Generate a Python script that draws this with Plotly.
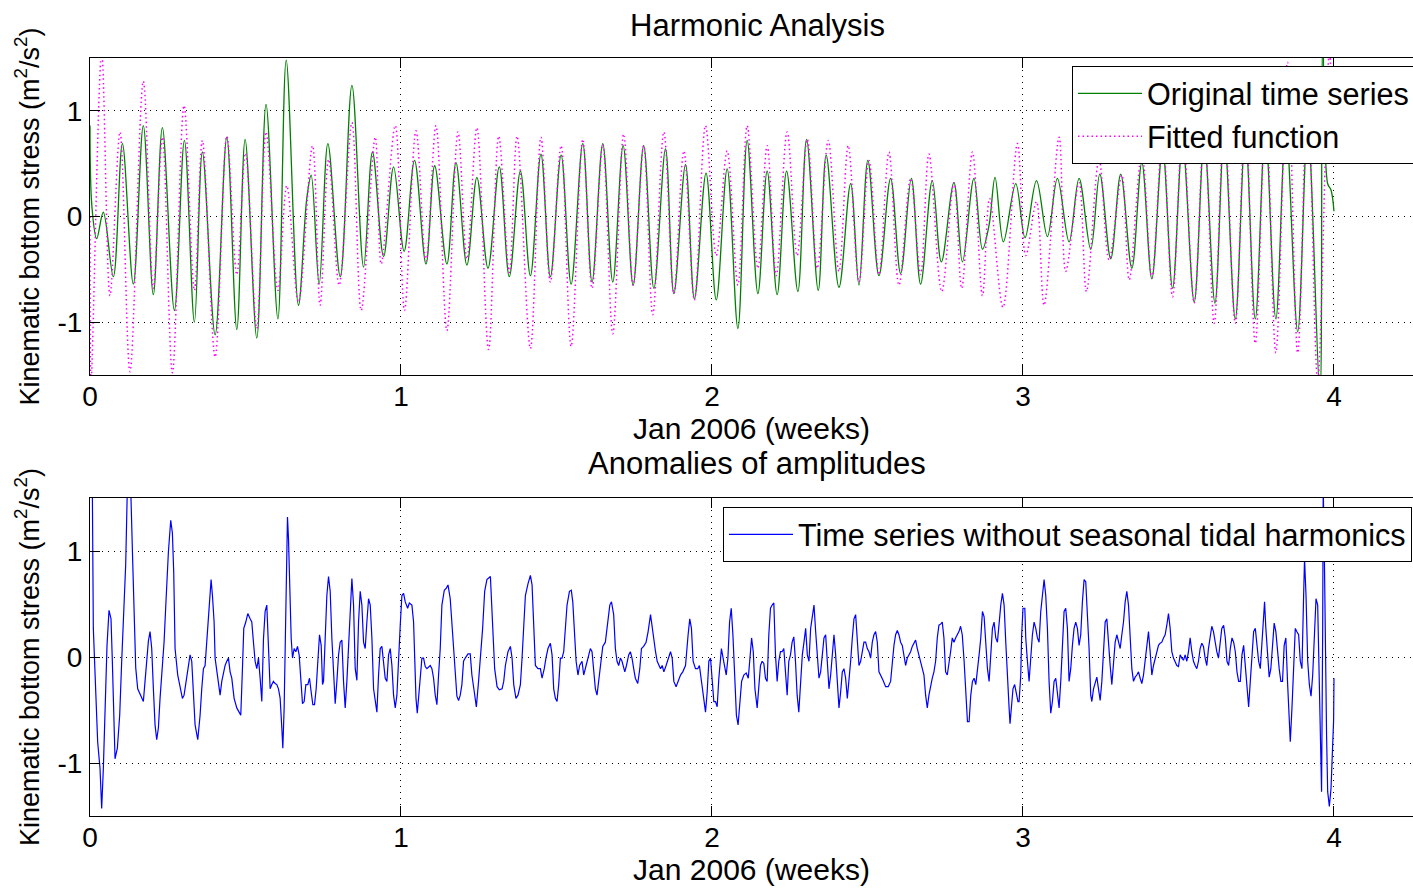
import numpy as np
import plotly.graph_objects as go

HOURS_PER_WEEK = 168.0

# ---- Original time series (green): turning points (hours, value)
GREEN_T = [0.0, 1.0, 3.6, 7.2, 12.6, 17.5, 23.4, 28.8, 34.2, 39.1, 45.6, 51.0, 56.4, 60.7, 67.6, 73.9,
           79.3, 83.8, 90.1, 95.1, 101.5, 106.0, 112.6, 117.1, 119.5, 123.8, 128.5, 135.2, 141.5, 147.8,
           152.6, 158.6, 164.0, 169.7, 175.3, 181.5, 186.2, 192.8, 197.7, 203.6, 209.0, 215.0, 221.1,
           226.5, 232.5, 237.9, 243.6, 248.7, 254.5, 259.9, 266.2, 271.2, 277.0, 282.4, 288.0, 293.4,
           299.1, 304.6, 310.9, 315.4, 321.7, 326.5, 332.8, 338.3, 344.2, 350.0, 355.0, 360.8, 365.8,
           371.2, 376.3, 382.4, 387.1, 393.4, 397.7, 404.6, 410.9, 415.4, 420.2, 426.2, 432.5, 437.9,
           443.7, 448.7, 455.0, 459.9, 466.7, 471.3, 477.5, 482.1, 485.7, 488.9, 493.4, 500.1, 505.1,
           511.3, 517.2, 522.6, 528.9, 534.3, 540.6, 545.5, 551.4, 556.8, 562.8, 568.2, 573.6, 579.4,
           584.8, 590.2, 596.5, 601.9, 607.7, 612.7, 618.7, 624.1, 629.5, 634.9, 640.6, 646.0, 652.4,
           657.8, 664.4, 665.9, 668.6, 670.4, 672.0]
GREEN_V = [0.86, 0.10, -0.21, 0.04, -0.57, 0.69, -0.64, 0.86, -0.74, 0.84, -0.89, 0.72, -1.00, 0.61, -1.12, 0.75,
           -1.07, 0.73, -1.15, 1.06, -0.97, 1.48, -0.84, 0.17, 0.39, -0.64, 0.69, -0.57, 1.24, -0.48,
           0.61, -0.38, 0.47, -0.33, 0.53, -0.45, 0.48, -0.45, 0.51, -0.46, 0.37, -0.49, 0.47,
           -0.57, 0.43, -0.56, 0.59, -0.57, 0.58, -0.64, 0.69, -0.62, 0.69, -0.62, 0.67, -0.65,
           0.67, -0.68, 0.64, -0.73, 0.49, -0.78, 0.41, -0.79, 0.45, -1.06, 0.72, -0.73, 0.43,
           -0.74, 0.43, -0.71, 0.73, -0.70, 0.58, -0.67, 0.31, -0.65, 0.53, -0.56, 0.36, -0.54,
           0.36, -0.64, 0.34, -0.43, 0.32, -0.43, 0.36, -0.31, -0.08, 0.37, -0.24, 0.31, -0.20,
           0.34, -0.19, 0.36, -0.24, 0.36, -0.31, 0.40, -0.40, 0.40, -0.49, 0.51, -0.59, 0.65,
           -0.68, 0.70, -0.81, 0.72, -0.82, 0.78, -0.97, 0.78, -0.97, 0.82, -0.97, 0.85, -1.09,
           0.85, -1.70, 1.70, 0.31, 0.25, 0.05]

# ---- Fitted function (magenta, dotted)
FIT_T = [0.0, 0.6, 6.3, 10.8, 16.2, 21.6, 28.8, 34.2, 39.1, 44.5, 50.8, 56.4, 60.7, 67.6, 73.9, 79.3,
         84.0, 90.1, 95.1, 101.5, 106.3, 112.6, 120.2, 124.3, 128.9, 134.6, 141.5, 146.5, 154.1, 157.3,
         164.9, 169.9, 176.1, 181.5, 186.9, 192.8, 198.8, 203.6, 209.0, 215.3, 220.8, 226.5, 230.7,
         237.9, 243.6, 248.7, 254.5, 259.9, 266.2, 271.2, 277.0, 282.4, 288.3, 293.4, 299.1, 304.0,
         310.0, 315.4, 320.8, 326.5, 332.5, 338.3, 344.2, 350.0, 355.0, 360.8, 365.8, 370.7, 376.6,
         382.0, 387.5, 392.9, 398.8, 404.6, 409.6, 415.4, 420.8, 426.2, 431.6, 437.0, 443.3, 448.7,
         453.2, 460.1, 466.7, 470.9, 476.7, 482.1, 486.0, 493.2, 501.0, 505.5, 511.3, 515.4, 523.5,
         527.1, 534.3, 538.3, 545.1, 550.5, 557.4, 561.4, 568.2, 573.6, 579.4, 584.8, 590.2, 596.5,
         601.9, 607.3, 612.7, 618.7, 624.1, 629.5, 635.2, 640.6, 646.9, 652.4, 657.8, 663.2, 669.5, 672.0]
FIT_V = [0.0, -1.55, 1.55, -0.75, 0.80, -1.47, 1.28, -0.68, 0.75, -1.48, 1.05, -0.70, 0.72, -1.33, 0.76, -0.55,
         0.60, -1.06, 0.80, -0.70, 0.29, -0.81, 0.67, -0.84, 0.54, -0.65, 0.89, -0.89, 0.75, -0.45,
         0.86, -0.89, 0.81, -0.42, 0.86, -1.08, 0.80, -0.40, 0.84, -1.26, 0.76, -0.53, 0.76,
         -1.25, 0.75, -0.62, 0.67, -1.23, 0.73, -0.68, 0.68, -1.11, 0.78, -0.65, 0.67, -0.93,
         0.80, -0.73, 0.62, -0.79, 0.86, -0.37, 0.62, -0.65, 0.86, -0.49, 0.67, -0.56, 0.80,
         -0.37, 0.73, -0.49, 0.72, -0.52, 0.67, -0.62, 0.53, -0.55, 0.61, -0.65, 0.36, -0.55,
         0.59, -0.71, 0.32, -0.68, 0.61, -0.75, 0.17, -0.86, 0.69, -0.37, 0.14, -0.84, 0.75,
         -0.52, 0.32, -0.71, 0.54, -0.41, 0.39, -0.60, 0.60, -0.58, 0.75, -0.76, 0.80, -0.82,
         0.85, -1.01, 0.90, -1.01, 0.95, -1.20, 1.00, -1.29, 1.46, -1.29, 1.20, -1.55, 1.55, 0.50]

# ---- Anomalies (blue): time series without seasonal tidal harmonics (hours, value)
ANOM_T = [0.0, 1.26, 1.8, 3.06, 4.14, 5.41, 6.31, 7.21, 8.47, 9.19, 10.27, 11.35, 12.07, 12.61, 13.52, 14.78,
          16.04, 17.12, 18.02, 19.28, 20.18, 21.98, 23.07, 23.97, 24.69, 25.77, 27.57, 28.83, 29.73, 30.64,
          31.54, 32.44, 33.34, 34.24, 35.14, 36.04, 36.94, 37.84, 39.10, 40.01, 41.09, 42.35, 43.61, 44.51,
          45.23, 45.95, 47.39, 48.66, 49.92, 50.82, 51.72, 53.16, 54.06, 54.96, 55.86, 56.77, 58.21, 59.47,
          60.37, 61.27, 62.17, 63.07, 63.97, 64.87, 65.42, 66.14, 67.04, 67.58, 69.02, 70.28, 71.18, 72.08,
          72.98, 73.89, 74.79, 75.69, 76.59, 77.85, 79.29, 80.55, 81.45, 82.35, 83.07, 84.16, 85.24, 86.50,
          87.40, 88.30, 89.20, 90.10, 91.00, 91.91, 92.81, 93.71, 94.61, 95.51, 96.41, 97.31, 98.21, 99.11,
          100.02, 100.92, 101.82, 102.72, 103.62, 104.16, 104.88, 105.42, 106.14, 106.68, 107.22, 107.76,
          108.67, 109.39, 110.29, 111.19, 112.09, 112.99, 113.89, 114.79, 115.69, 116.60, 117.68, 118.58,
          119.48, 120.38, 121.28, 122.18, 123.08, 123.98, 124.89, 125.61, 126.15, 127.05, 127.95, 128.85,
          129.75, 130.65, 131.55, 132.46, 133.36, 134.26, 135.16, 136.06, 136.96, 137.86, 138.76, 139.66,
          140.56, 141.47, 142.37, 143.27, 144.17, 145.07, 145.97, 146.87, 147.77, 148.67, 149.57, 150.48,
          151.38, 152.28, 153.18, 154.08, 154.98, 155.88, 156.78, 157.68, 158.58, 159.48, 160.39, 161.29,
          162.19, 163.09, 163.99, 164.89, 165.79, 166.69, 167.59, 168.49,
          169.4, 170.3, 171.6, 172.5, 173.9, 174.8, 175.3, 176.1, 176.8, 177.5, 178.4, 179.3, 180.2, 181.1,
          182.0, 182.9, 183.8, 184.7, 185.6, 186.5, 187.4, 188.3, 189.2, 190.1, 191.4, 192.5, 193.4, 194.6,
          195.5, 196.4, 197.3, 198.2, 199.1, 200.0, 200.9, 201.8, 202.7, 204.2, 205.4, 206.3, 207.6, 208.7,
          209.9, 210.8, 212.1, 213.2, 214.4, 216.3, 217.5, 218.6, 219.9, 221.1, 222.6, 223.5, 224.4, 225.8,
          227.1, 228.0, 228.9, 230.1, 231.2, 232.5, 233.4, 234.3, 235.2, 236.6, 237.9, 238.8, 239.7, 240.6,
          242.0, 243.3, 244.2, 245.4, 246.3, 247.4, 248.7, 249.6, 250.5, 251.4, 252.3, 253.2, 254.1, 255.0,
          255.9, 256.8, 257.7, 259.0, 260.0, 260.8, 261.7, 262.6, 263.6, 264.5, 265.8, 266.7, 268.0, 269.1,
          270.3, 271.2, 272.1, 273.0, 273.9, 274.8, 276.1, 277.0, 278.4, 279.7, 280.8, 281.7, 282.9, 283.8,
          284.7, 285.6, 286.5, 287.4, 288.9, 289.8, 291.0, 291.9, 292.8, 293.7, 294.6, 295.9, 297.0, 297.9,
          299.1, 300.4, 301.5, 302.8, 303.6, 304.5, 305.5, 306.4, 307.3, 308.2, 309.1, 310.0, 311.2, 312.7,
          313.6, 314.5, 315.4, 316.6, 317.7, 319.0, 320.2, 321.7, 323.1, 324.0, 324.9, 325.8, 327.1, 328.3,
          329.2, 330.3, 331.6, 332.5, 333.4, 334.3, 335.2, 336.1, 337.0,
          337.9, 338.8, 339.7, 340.6, 341.1, 342.0, 343.0, 343.7, 344.6, 345.5, 346.4, 347.3, 348.4, 349.2,
          350.1, 351.1, 352.0, 353.2, 354.5, 355.6, 356.5, 357.4, 358.3, 359.2, 360.4, 361.3, 362.2, 363.1,
          364.0, 364.9, 365.8, 366.7, 367.6, 368.5, 369.4, 370.3, 371.2, 372.1, 373.0, 373.9, 374.8, 375.7,
          376.6, 377.5, 378.4, 379.3, 380.2, 381.1, 382.0, 382.9, 383.8, 384.8, 385.7, 386.6, 387.5, 388.4,
          389.3, 390.2, 391.1, 392.0, 392.9, 393.8, 394.7, 395.6, 396.5, 397.4, 398.3, 399.2, 400.1, 401.0,
          401.9, 402.8, 403.7, 404.6, 405.5, 406.4, 407.3, 408.2, 409.1, 410.0, 410.9, 411.8, 412.7, 413.6,
          414.5, 415.4, 416.3, 417.2, 418.1, 419.0, 419.9, 420.8, 421.7, 422.6, 423.5, 424.4, 425.3, 426.2,
          427.1, 428.4, 429.8, 431.2, 432.5, 433.4, 434.3, 435.2, 436.1, 437.0, 437.9, 438.8, 439.7, 440.6,
          441.5, 442.4, 443.3, 444.2, 445.1, 446.0, 446.9, 447.8, 448.7, 449.6, 450.5, 451.4, 452.3, 453.2,
          454.1, 455.0, 455.9, 456.8, 457.7, 458.6, 459.5, 460.4, 461.3, 462.2, 463.1, 464.0, 464.9, 465.8,
          466.7, 467.6, 468.5, 469.4, 470.3, 471.2, 472.2, 473.1, 474.0, 474.9, 475.8, 476.7, 477.6, 478.5,
          479.4, 480.3, 481.2, 482.1, 483.0, 483.9, 484.8, 485.7, 486.6, 487.5, 488.4, 489.3, 490.2, 491.1,
          492.0, 492.9, 493.8, 494.7, 495.6, 496.5, 497.0, 497.9, 498.6, 499.5, 500.4, 501.3,
          501.9, 502.8, 503.3, 504.0, 505.0, 505.5, 506.4, 507.3, 508.2, 509.1, 510.0, 510.9, 511.8, 512.7,
          513.6, 514.5, 515.4, 516.3, 517.2, 518.1, 519.0, 519.9, 520.8, 521.7, 522.6, 523.5, 524.4, 525.3,
          526.2, 527.1, 528.0, 528.9, 529.8, 530.7, 531.6, 532.5, 533.4, 534.3, 535.2, 536.1, 537.0, 537.9,
          538.8, 539.7, 540.6, 541.2, 542.1, 543.0, 543.9, 544.8, 545.7, 546.6, 547.5, 548.4, 549.3, 550.2,
          551.1, 552.0, 552.9, 553.8, 554.7, 555.6, 556.5, 557.4, 558.3, 559.2, 560.1, 561.0, 561.9, 562.8,
          563.7, 564.6, 565.5, 566.4, 567.3, 568.2, 569.1, 570.0, 570.9, 571.8, 572.7, 573.6, 574.5, 575.4,
          576.3, 577.2, 578.1, 579.0, 579.9, 580.8, 581.7, 582.6, 583.5, 584.4, 585.3, 586.2, 587.1, 588.0,
          588.9, 589.8, 590.7, 591.6, 592.5, 593.4, 594.3, 595.2, 596.1, 597.0, 597.9, 598.8, 599.7, 600.6,
          601.5, 602.4, 603.3, 604.2, 605.1, 606.0, 606.9, 607.8, 608.7, 609.6, 610.5, 611.4, 612.4, 613.3,
          614.2, 615.1, 616.0, 616.9, 617.8, 618.7, 619.6, 620.5, 621.4, 622.3, 623.2, 624.1, 625.0, 625.9,
          626.8, 627.7, 628.6, 629.5, 630.4, 631.3, 632.2, 633.1, 634.0, 634.5, 635.2, 636.1, 637.0, 637.9,
          638.8, 639.7, 640.6, 641.5, 642.4, 643.3, 644.2, 645.1, 646.0, 646.9, 647.8, 648.4, 649.3, 650.2,
          651.1, 651.9, 652.9, 653.8, 654.7, 655.6, 656.1, 656.9, 657.8, 658.7, 659.6, 660.5, 661.4, 662.3,
          663.2, 664.1, 664.6, 665.3, 665.9, 666.2, 666.8, 667.3, 668.0, 668.6, 669.5, 670.4, 671.3, 671.8, 672.0]
ANOM_V = [1.6, 1.6, 0.27, -0.36, -0.80, -1.05, -1.43, -1.05, -0.39, 0.11, 0.44, 0.36, -0.04, -0.48, -0.96, -0.86,
          -0.55, -0.04, 0.29, 0.87, 1.6, 1.6, 0.90, 0.30, -0.10, -0.30, -0.37, -0.42, -0.23, -0.04,
          0.15, 0.24, 0.08, -0.30, -0.64, -0.78, -0.67, -0.39, -0.08, 0.14, 0.54, 0.99, 1.29, 1.17,
          0.80, 0.08, -0.17, -0.30, -0.39, -0.36, -0.26, -0.08, 0.02, -0.04, -0.36, -0.64, -0.78, -0.55,
          -0.30, -0.11, -0.08, 0.13, 0.33, 0.62, 0.73, 0.58, 0.33, -0.01, -0.23, -0.36, -0.23, -0.14,
          -0.08, -0.04, -0.01, -0.14, -0.20, -0.39, -0.48, -0.52, -0.55, -0.11, 0.27, 0.33, 0.41, 0.36,
          0.33, 0.14, -0.04, -0.11, -0.01, -0.20, -0.42, 0.17, 0.43, 0.49, 0.11, -0.30, -0.26, -0.23,
          -0.25, -0.26, -0.30, -0.39, -0.67, -0.86, -0.48, -0.01, 0.80, 1.32, 1.12, 0.65,
          0.18, -0.01, 0.08, 0.05, 0.10, 0.02, -0.17, -0.44, -0.42, -0.26, -0.26, -0.20,
          -0.33, -0.45, -0.45, -0.30, -0.04, 0.21, 0.11, -0.26, -0.23, 0.11, 0.58, 0.76,
          0.62, 0.18, -0.20, -0.44, -0.23, 0.02, 0.14, 0.16, -0.23, -0.48, -0.23, 0.14,
          0.49, 0.74, 0.49, -0.11, -0.22, 0.33, 0.62, 0.49, 0.14, 0.08, 0.33, 0.55,
          0.49, 0.18, -0.30, -0.42, -0.52, -0.17, 0.08, 0.10, -0.08, -0.20, -0.23, 0.02,
          0.08, -0.08, -0.36, -0.48, -0.36, 0.02, 0.30, 0.58,
          0.60, 0.52, 0.46, 0.51, 0.49, 0.33, -0.04, -0.39, -0.53, -0.36, -0.17, -0.01, -0.01, -0.09,
          -0.11, -0.09, -0.08, -0.11, -0.20, -0.36, -0.45, -0.17, 0.08, 0.49, 0.63, 0.65, 0.68, 0.55,
          0.33, 0.10, -0.17, -0.37, -0.41, -0.36, -0.26, -0.04, -0.01, 0.03, 0.03, -0.17, -0.33, -0.47,
          -0.23, -0.04, 0.27, 0.62, 0.73, 0.76, 0.36, -0.11, -0.28, -0.31, -0.30, -0.23, -0.08, 0.05,
          0.10, -0.01, -0.26, -0.39, -0.36, -0.26, -0.01, 0.27, 0.58, 0.69, 0.77, 0.68, 0.30, -0.08,
          -0.11, -0.11, -0.20, -0.11, -0.01, 0.08, 0.13, 0.02, -0.30, -0.39, -0.42, -0.26, -0.01, -0.01,
          0.05, 0.30, 0.49, 0.62, 0.63, 0.52, 0.18, -0.04, -0.17, -0.08, -0.04, -0.17, -0.08, -0.01,
          0.08, 0.05, -0.11, -0.30, -0.36, -0.23, -0.04, 0.10, 0.14, 0.36, 0.49, 0.52, 0.40, 0.08,
          -0.04, -0.08, -0.01, -0.04, -0.14, -0.08, 0.02, 0.05, -0.01, -0.11, -0.20, -0.25, -0.11, 0.08,
          0.10, 0.14, 0.24, 0.40, 0.30, 0.14, 0.05, -0.04, -0.08, -0.11, -0.08, -0.14, -0.08, -0.01,
          0.05, -0.01, -0.23, -0.28, -0.23, -0.17, -0.14, -0.08, 0.21, 0.36, 0.27, -0.04, -0.11, -0.11,
          -0.08, -0.23, -0.45, -0.52, -0.33, -0.04, -0.01, -0.23, -0.42,
          -0.42, -0.47, -0.20, -0.01, 0.08, -0.01, -0.11, -0.17, -0.01, 0.33, 0.46, 0.21, -0.23, -0.55,
          -0.64, -0.39, -0.23, -0.17, -0.15, -0.20, -0.04, 0.18, 0.05, -0.30, -0.48, -0.23, -0.08, -0.04,
          -0.06, -0.20, -0.23, 0.21, 0.46, 0.49, 0.51, 0.02, -0.23, -0.04, 0.05, 0.05, 0.08, -0.14,
          -0.36, -0.04, 0.02, 0.14, 0.19, -0.04, -0.36, -0.52, -0.23, 0.02, 0.14, 0.27, 0.02, -0.04,
          0.27, 0.41, 0.49, 0.24, -0.04, -0.20, -0.14, 0.05, 0.18, 0.21, -0.01, -0.30, -0.17, 0.02,
          0.21, 0.02, -0.23, -0.48, -0.33, -0.14, -0.11, -0.20, -0.39, -0.23, -0.04, 0.18, 0.36, 0.40,
          0.18, -0.08, -0.04, 0.05, 0.14, 0.14, 0.08, 0.05, -0.01, 0.14, 0.21, 0.24, 0.14, -0.14,
          -0.18, -0.22, -0.28, -0.28, -0.23, -0.04, 0.11, 0.21, 0.25, 0.21, 0.14, 0.11, 0.02, -0.08,
          -0.01, 0.02, 0.05, 0.10, 0.13, 0.16, 0.08, 0.02, -0.04, -0.11, -0.17, -0.36, -0.48, -0.36,
          -0.26, -0.20, -0.14, -0.04, 0.18, 0.30, 0.31, 0.33, 0.18, -0.14, -0.17, -0.08, 0.05, 0.18,
          0.14, 0.18, 0.21, 0.24, 0.29, 0.21, -0.04, -0.30, -0.61, -0.61, -0.36, -0.23, -0.20, -0.26,
          -0.14, 0.02, 0.18, 0.43, 0.38, 0.14, -0.11, -0.23, -0.01, 0.27, 0.33, 0.18, 0.14, 0.33,
          0.49, 0.60, 0.49, 0.14, -0.23, -0.48, -0.63, -0.48, -0.30, -0.26, -0.36, -0.42,
          -0.42, -0.17, 0.21, 0.46, 0.46, 0.18, -0.04, -0.23, -0.01, 0.21, 0.33, 0.27, 0.18, 0.14,
          0.43, 0.62, 0.73, 0.58, 0.27, -0.23, -0.53, -0.42, -0.23, -0.20, -0.33, -0.48, -0.23, 0.11,
          0.43, 0.46, 0.27, -0.23, -0.11, 0.11, 0.27, 0.33, 0.27, 0.11, 0.21, 0.52, 0.73, 0.71,
          0.43, 0.08, -0.36, -0.42, -0.30, -0.23, -0.19, -0.30, -0.41, -0.23, 0.11, 0.33, 0.36, 0.11,
          -0.08, -0.26, -0.04, 0.14, 0.21, 0.14, 0.08, 0.21, 0.33, 0.52, 0.62, 0.49, 0.18, -0.11,
          -0.23, -0.19, -0.17, -0.14, -0.20, -0.25, -0.17, -0.04, 0.14, 0.24, 0.05, -0.17, -0.08, -0.01,
          0.05, 0.11, 0.13, 0.14, 0.18, 0.21, 0.30, 0.41, 0.27, 0.05, -0.01, -0.04, -0.08, -0.09,
          0.02, -0.01, -0.03, 0.02, -0.04, 0.05, 0.18, 0.05, -0.04, -0.08, -0.11, -0.04, 0.08, 0.13,
          0.10, -0.01, -0.08, 0.08, 0.21, 0.29, 0.24, 0.14, 0.05, -0.01, 0.14, 0.27, 0.30, 0.18,
          -0.04, -0.08, 0.08, 0.18, 0.14, 0.05, -0.14, -0.23, -0.23, 0.02, 0.11, -0.11, -0.33, -0.47,
          -0.23, 0.05, 0.24, 0.27, 0.11, -0.04, -0.11, 0.14, 0.49, 0.52, 0.27, 0.02, -0.19, -0.11,
          0.14, 0.32, 0.24, 0.05, -0.11, -0.23, -0.23, 0.11, 0.18, -0.23, -0.67, -0.80, -0.48, -0.04,
          0.27, 0.24, 0.21, -0.04, -0.11, 0.58, 0.93, 0.58, -0.04, -0.26, -0.37, -0.17, 0.27, 0.55,
          0.49, -0.20, -0.89, -1.27, 0.27, 1.6, 0.96, 0.02, -0.74, -1.27, -1.41, -1.24, -0.67, -0.60, -0.20]

X_TICKS = [0, 1, 2, 3, 4]
X_TICK_TEXT = ["0", "1", "2", "3", "4"]
Y_TICKS = [-1, 0, 1]
Y_TICK_TEXT = ["-1", "0", "1"]
X_RANGE = [0, 4.2541]
Y_RANGE = [-1.5, 1.5]

to_weeks = lambda h: np.asarray(h, dtype=float) / HOURS_PER_WEEK

FONT = "Liberation Sans, Arial, sans-serif"
GRID_DASH = "1px,5px"

# plot area (paper) spans pixels 90..1413 horizontally
def px_to_paper_x(px):
    return (px - 90) / 1323.0

fig = go.Figure()
fig.add_trace(go.Scatter(x=to_weeks(GREEN_T), y=GREEN_V, mode="lines", name="Original time series",
                         line=dict(color="#008000", width=1.3, shape="spline", smoothing=1.0),
                         xaxis="x", yaxis="y", legend="legend"))
fig.add_trace(go.Scatter(x=to_weeks(FIT_T), y=FIT_V, mode="lines", name="Fitted function",
                         line=dict(color="#FF00FF", width=1.5, dash="1.5px,3px", shape="spline", smoothing=1.0),
                         xaxis="x", yaxis="y", legend="legend"))
fig.add_trace(go.Scatter(x=to_weeks(ANOM_T), y=ANOM_V, mode="lines",
                         name="Time series without seasonal tidal harmonics",
                         line=dict(color="#0000FF", width=1.2),
                         xaxis="x2", yaxis="y2", legend="legend2"))

def xax(anchor, dom_title):
    return dict(domain=[0, 1], range=X_RANGE, anchor=anchor, tickmode="array", tickvals=X_TICKS,
                ticktext=X_TICK_TEXT,
                ticks="inside", ticklen=10, tickcolor="black", showline=True, linecolor="black",
                linewidth=1, mirror="ticks", showgrid=True, gridcolor="black", gridwidth=1,
                griddash=GRID_DASH, zeroline=False, tickfont=dict(size=28, color="black"),
                ticklabelstandoff=-4,
                title=dict(text=dom_title, font=dict(size=30, color="black"), standoff=6))

def yax(anchor, domain):
    return dict(domain=domain, range=Y_RANGE, anchor=anchor, tickmode="array", tickvals=Y_TICKS,
                ticktext=Y_TICK_TEXT,
                ticks="inside", ticklen=10, tickcolor="black", showline=True, linecolor="black",
                linewidth=1, mirror=False, showgrid=True, gridcolor="black", gridwidth=1,
                griddash=GRID_DASH, zeroline=False, tickfont=dict(size=28, color="black"),
                ticklabelstandoff=1,
                title=dict(text="Kinematic bottom stress (m<sup>2</sup>/s<sup>2</sup>)",
                           font=dict(size=27, color="black"), standoff=10))

fig.update_layout(
    width=1413, height=889,
    margin=dict(l=90, r=0, t=0, b=0, autoexpand=False),
    paper_bgcolor="white", plot_bgcolor="white",
    font=dict(family=FONT, color="black"),
    showlegend=True,
    xaxis=xax("y", "Jan 2006 (weeks)"),
    yaxis=yax("x", [0.5782, 0.9348]),
    xaxis2=xax("y2", "Jan 2006 (weeks)"),
    yaxis2=yax("x2", [0.0821, 0.4398]),
    legend=dict(x=px_to_paper_x(1072), y=1 - 66 / 889, xanchor="left", yanchor="top",
                bgcolor="white", bordercolor="black", borderwidth=1,
                font=dict(size=30.6, color="black"), itemwidth=64, tracegroupgap=0),
    legend2=dict(x=px_to_paper_x(723), y=1 - 507 / 889, xanchor="left", yanchor="top",
                 bgcolor="white", bordercolor="black", borderwidth=1,
                 font=dict(size=30.6, color="black"), itemwidth=64),
    annotations=[
        dict(text="Harmonic Analysis", x=px_to_paper_x(757), y=1 - 25 / 889, xref="paper", yref="paper",
             xanchor="center", yanchor="middle", showarrow=False, font=dict(size=31, color="black")),
        dict(text="Anomalies of amplitudes", x=px_to_paper_x(757), y=1 - 463 / 889, xref="paper", yref="paper",
             xanchor="center", yanchor="middle", showarrow=False, font=dict(size=31, color="black")),
    ],
)

fig.write_html("out.html")
